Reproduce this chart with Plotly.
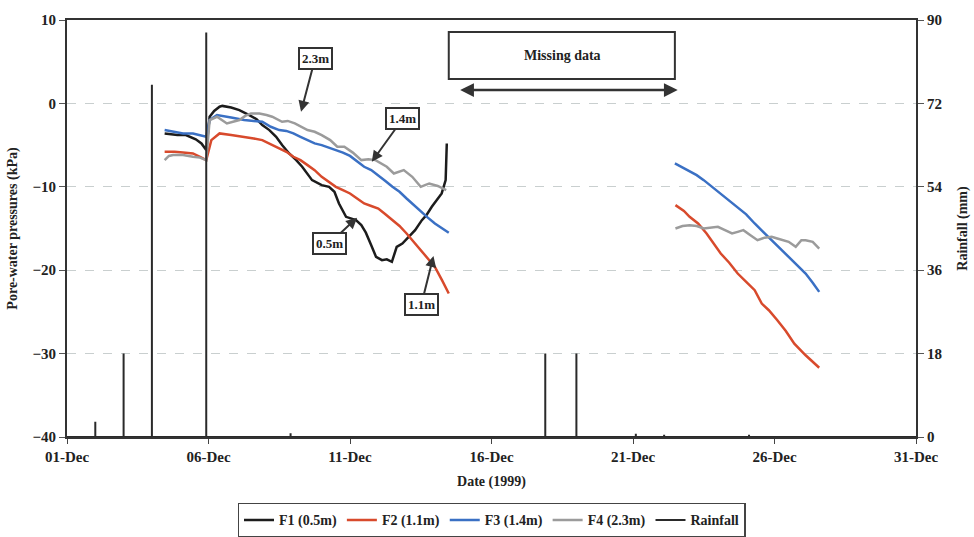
import pandas as pd
import plotly.graph_objects as go

# ---- data (x values are day-of-month in December 1999) ----
f1_day = [4.45, 4.7, 4.9, 5.2, 5.4, 5.55, 5.75, 5.92, 6.04, 6.2, 6.39, 6.49, 6.8, 7.09, 7.44,
          7.7, 7.9, 8.15, 8.39, 8.6, 8.85, 9.1, 9.31, 9.5, 9.66, 10.0, 10.26, 10.45, 10.61,
          10.86, 11.21, 11.4, 11.56, 11.75, 11.92, 12.13, 12.3, 12.48, 12.65, 12.85, 13.08,
          13.3, 13.54, 13.7, 13.89, 14.05, 14.24, 14.38, 14.42]
f1_kpa = [-3.6, -3.7, -3.8, -3.8, -4.1, -4.3, -4.8, -5.6, -1.6, -0.9, -0.4, -0.3, -0.5, -0.8,
          -1.4, -1.9, -2.6, -3.2, -4.0, -5.0, -6.0, -6.8, -7.6, -8.4, -9.2, -9.8, -10.0, -10.6,
          -12.0, -13.6, -14.0, -14.6, -15.5, -17.0, -18.4, -18.8, -18.7, -19.0, -17.2, -16.8,
          -16.0, -15.2, -14.0, -13.4, -12.4, -11.6, -10.8, -9.2, -4.8]

f2_day = [4.45, 4.8, 5.1, 5.45, 5.7, 5.92, 6.1, 6.39, 6.8, 7.26, 7.6, 7.9, 8.2, 8.5, 8.75,
          9.0, 9.25, 9.5, 9.75, 10.0, 10.25, 10.5, 10.75, 11.0, 11.25, 11.5, 11.75, 12.0,
          12.25, 12.5, 12.75, 13.0, 13.25, 13.5, 13.75, 14.0, 14.25, 14.49]
f2_kpa = [-5.8, -5.8, -5.9, -6.0, -6.4, -6.8, -4.4, -3.6, -3.8, -4.0, -4.2, -4.4, -4.9, -5.4,
          -5.8, -6.4, -6.8, -7.4, -8.0, -8.8, -9.4, -10.0, -10.4, -10.8, -11.4, -12.0, -12.3,
          -12.6, -13.3, -14.0, -14.7, -15.6, -16.6, -17.6, -18.6, -19.6, -21.2, -22.8]

f3_day = [4.45, 4.8, 5.1, 5.45, 5.75, 5.92, 6.04, 6.3, 6.8, 7.26, 7.6, 7.9, 8.2, 8.5, 8.75,
          9.0, 9.25, 9.5, 9.75, 10.0, 10.25, 10.5, 10.75, 11.0, 11.25, 11.5, 11.75, 12.0,
          12.25, 12.5, 12.75, 13.0, 13.25, 13.5, 13.75, 14.0, 14.25, 14.49]
f3_kpa = [-3.2, -3.4, -3.6, -3.6, -3.9, -4.0, -2.0, -1.4, -1.7, -2.0, -2.1, -2.2, -2.8, -3.2,
          -3.3, -3.6, -4.0, -4.4, -4.8, -5.0, -5.3, -5.6, -5.9, -6.3, -6.9, -7.6, -8.0, -8.6,
          -9.3, -10.0, -10.6, -11.4, -12.2, -13.0, -13.7, -14.4, -15.0, -15.5]

f4_day = [4.45, 4.6, 4.75, 5.1, 5.45, 5.7, 5.92, 6.04, 6.3, 6.65, 7.09, 7.3, 7.5, 7.8, 8.05,
          8.25, 8.6, 8.8, 9.05, 9.3, 9.5, 9.75, 10.0, 10.3, 10.55, 10.8, 11.1, 11.4, 11.65,
          11.9, 12.1, 12.3, 12.55, 12.7, 12.9, 13.2, 13.5, 13.65, 13.8, 14.1, 14.4]
f4_kpa = [-6.8, -6.3, -6.2, -6.2, -6.4, -6.5, -6.8, -2.0, -1.6, -2.4, -2.0, -1.5, -1.2, -1.2,
          -1.4, -1.6, -2.2, -2.1, -2.4, -2.9, -3.2, -3.4, -3.8, -4.4, -5.2, -5.2, -5.9, -6.8,
          -6.7, -6.8, -7.2, -7.6, -8.4, -8.2, -8.0, -8.8, -10.0, -9.8, -9.6, -9.9, -10.4]

f2b_day = [22.5, 22.8, 23.0, 23.3, 23.6, 23.85, 24.1, 24.4, 24.7, 25.0, 25.3, 25.55, 25.8,
           26.1, 26.4, 26.7, 27.1, 27.58]
f2b_kpa = [-12.2, -12.9, -13.6, -14.4, -15.6, -16.8, -18.0, -19.1, -20.4, -21.4, -22.4,
           -24.0, -24.8, -26.0, -27.3, -28.8, -30.2, -31.7]

f3b_day = [22.48, 22.75, 23.0, 23.25, 23.5, 23.8, 24.1, 24.4, 24.7, 25.0, 25.3, 25.6, 25.9,
           26.2, 26.5, 26.8, 27.1, 27.35, 27.58]
f3b_kpa = [-7.2, -7.7, -8.2, -8.6, -9.2, -10.0, -10.8, -11.6, -12.4, -13.3, -14.4, -15.4,
           -16.4, -17.4, -18.4, -19.4, -20.4, -21.5, -22.6]

f4b_day = [22.5, 22.75, 23.0, 23.25, 23.5, 23.75, 24.0, 24.25, 24.5, 24.7, 24.9, 25.15,
           25.4, 25.65, 25.9, 26.1, 26.3, 26.5, 26.75, 26.95, 27.1, 27.35, 27.58]
f4b_kpa = [-15.0, -14.7, -14.6, -14.7, -15.0, -14.9, -14.8, -15.2, -15.6, -15.4, -15.2,
           -15.8, -16.4, -16.1, -16.0, -16.2, -16.4, -16.6, -17.2, -16.4, -16.4, -16.6, -17.4]

rain_day = [2.0, 3.0, 4.0, 5.92, 8.9, 17.9, 19.0, 21.1, 22.1, 25.1]
rain_mm = [3.3, 18.0, 76.0, 87.3, 0.8, 18.0, 18.0, 0.7, 0.5, 0.5]

x_ticks_first, x_ticks_last = 1, 31
y_left_range = [-40, 10]
y_right_range = [0, 90]

START = pd.Timestamp("1999-12-01")


def to_dt(days):
    return [START + pd.Timedelta(days=d - 1) for d in days]


# rainfall as a single spiked line along the zero baseline
rx, ry = [START], [0]
for d, v in zip(rain_day, rain_mm):
    t = START + pd.Timedelta(days=d - 1)
    rx += [t, t, t]
    ry += [0, v, 0]
rx.append(START + pd.Timedelta(days=30))
ry.append(0)

BLACK = "#1c1c1c"
RED = "#d84a2c"
BLUE = "#3a70c4"
GRAY = "#9b9b9b"
SERIF = "Liberation Serif"

fig = go.Figure()

fig.add_trace(go.Scatter(x=to_dt(f1_day), y=f1_kpa, mode="lines", name="F1 (0.5m)",
                         line=dict(color=BLACK, width=2.5)))
fig.add_trace(go.Scatter(x=to_dt(f2_day) + [None] + to_dt(f2b_day),
                         y=f2_kpa + [None] + f2b_kpa, mode="lines", name="F2 (1.1m)",
                         line=dict(color=RED, width=2.5), connectgaps=False))
fig.add_trace(go.Scatter(x=to_dt(f3_day) + [None] + to_dt(f3b_day),
                         y=f3_kpa + [None] + f3b_kpa, mode="lines", name="F3 (1.4m)",
                         line=dict(color=BLUE, width=2.5), connectgaps=False))
fig.add_trace(go.Scatter(x=to_dt(f4_day) + [None] + to_dt(f4b_day),
                         y=f4_kpa + [None] + f4b_kpa, mode="lines", name="F4 (2.3m)",
                         line=dict(color=GRAY, width=2.5), connectgaps=False))
fig.add_trace(go.Scatter(x=rx, y=ry, mode="lines", name="Rainfall", yaxis="y2",
                         line=dict(color="#2a2a2a", width=2)))

bold = dict(family=SERIF, size=15, color="#222", weight="bold")
title_font = dict(family=SERIF, size=14, color="#222", weight="bold")

fig.update_layout(
    width=974, height=537,
    margin=dict(l=67, r=58, t=20, b=100, autoexpand=False),
    paper_bgcolor="white", plot_bgcolor="white",
    font=dict(family=SERIF, color="#222"),
    showlegend=True,
    legend=dict(orientation="h", x=0.5, xanchor="center", y=-0.2, yanchor="middle",
                font=dict(family=SERIF, size=14, color="#222", weight="bold"),
                bordercolor="#444", borderwidth=1.5, bgcolor="white",
                itemwidth=30, tracegroupgap=0),
    xaxis=dict(
        type="date",
        range=[START, START + pd.Timedelta(days=x_ticks_last - x_ticks_first)],
        tick0=START, dtick=5 * 86400000, tickformat="%d-%b",
        ticks="outside", ticklen=5, tickcolor="#444",
        showline=True, linecolor="#333", linewidth=2, mirror=True,
        showgrid=False, zeroline=False,
        tickfont=bold,
        title=dict(text="Date (1999)", font=title_font, standoff=12),
    ),
    yaxis=dict(
        range=y_left_range, dtick=10,
        ticks="outside", ticklen=6, tickcolor="#555",
        showline=True, linecolor="#333", linewidth=2,
        showgrid=True, gridcolor="#c9cfcf", gridwidth=1, griddash="dash",
        zeroline=False,
        tickfont=bold,
        title=dict(text="Pore-water pressures (kPa)", font=title_font, standoff=12),
    ),
    yaxis2=dict(
        range=y_right_range, dtick=18, overlaying="y", side="right",
        ticks="outside", ticklen=6, tickcolor="#555",
        showline=True, linecolor="#333", linewidth=2,
        showgrid=False, zeroline=False,
        tickfont=bold,
        title=dict(text="Rainfall (mm)", font=title_font, standoff=16),
    ),
)


def day(d):
    return START + pd.Timedelta(days=d - 1)


# labelled arrows pointing at each sensor trace
labels = [
    ("2.3m", 9.27, -1.0, 14, -53),
    ("1.4m", 11.77, -7.0, 31, -43),
    ("0.5m", 11.25, -13.7, -28, 26),
    ("1.1m", 13.95, -18.3, -12, 48),
]
for txt, dx, yv, ax, ay in labels:
    fig.add_annotation(x=day(dx), y=yv, xref="x", yref="y", text=txt,
                       showarrow=True, ax=ax, ay=ay, arrowhead=2, arrowsize=1.1,
                       arrowwidth=2, arrowcolor="#333",
                       font=dict(family=SERIF, size=13, color="#222", weight="bold"),
                       bgcolor="white", bordercolor="#333", borderwidth=2, borderpad=2)

# missing-data box and its span arrow
fig.add_shape(type="rect", xref="x", yref="y", x0=day(14.49), x1=day(22.48), y0=2.93, y1=8.56,
              line=dict(color="#333", width=2), fillcolor="white")
fig.add_annotation(x=day(18.5), y=5.8, xref="x", yref="y", text="Missing data",
                   showarrow=False,
                   font=dict(family=SERIF, size=14, color="#222", weight="bold"))
fig.add_annotation(x=day(22.58), y=1.6, ax=day(14.84), ay=1.6, xref="x", yref="y",
                   axref="x", ayref="y", text="", showarrow=True, arrowhead=2,
                   arrowside="end+start", arrowsize=1.1, arrowwidth=2.5, arrowcolor="#333")

fig.write_html("out.html")
